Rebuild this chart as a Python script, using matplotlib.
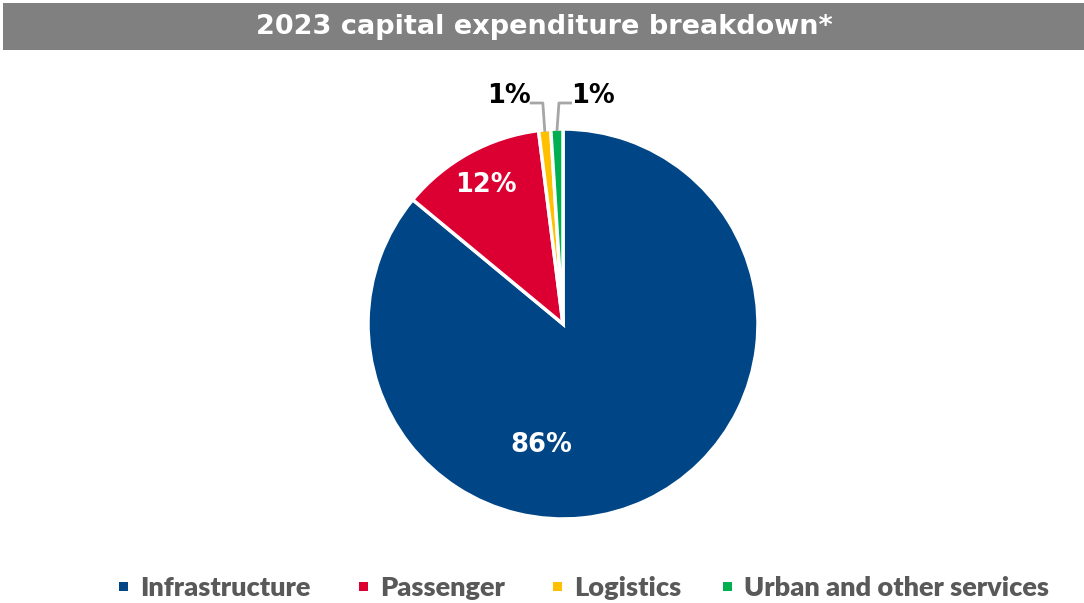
import numpy as np
import matplotlib
matplotlib.use("Agg")
import matplotlib.pyplot as plt
from matplotlib.patches import Rectangle

categories = ["Infrastructure", "Passenger", "Logistics", "Urban and other services"]
shares = [86, 12, 1, 1]
colors = ["#004687", "#DC0032", "#FFC000", "#00B050"]
title = "2023 capital expenditure breakdown*"

W, H = 1084, 603
fig = plt.figure(figsize=(W / 100, H / 100), dpi=100)
ax = fig.add_axes([0, 0, 1, 1])
ax.set_xlim(0, W)
ax.set_ylim(0, H)
ax.set_aspect("equal")
ax.axis("off")

# title banner
ax.add_patch(Rectangle((3, H - 50), W - 3, 47, facecolor="#808080", edgecolor="none"))
ax.text(544, H - 27, title, ha="center", va="center", color="white",
        fontsize=19.5, fontweight="bold", family="DejaVu Sans")

cx, cy, r = 563, H - 324, 195
wedges, _ = ax.pie(shares, colors=colors, startangle=90, counterclock=False,
                   center=(cx, cy), radius=r,
                   wedgeprops=dict(edgecolor="white", linewidth=2.5))
ax.set_xlim(0, W)
ax.set_ylim(0, H)

# labels inside the large slices (angle in degrees, distance as fraction of radius)
inner = [(shares[0], -100, 0.63), (shares[1], 119, 0.815)]
for val, ang, frac in inner:
    a = np.deg2rad(ang)
    ax.text(cx + frac * r * np.cos(a), cy + frac * r * np.sin(a), f"{val}%",
            ha="center", va="center", color="white", fontsize=18.5,
            fontweight="bold", family="DejaVu Sans")

def mid_angle(w):
    return np.deg2rad((w.theta1 + w.theta2) / 2)

# small slices: leader lines to labels above the pie
for w, val, side in [(wedges[2], shares[2], -1), (wedges[3], shares[3], 1)]:
    a = mid_angle(w)
    x0, y0 = cx + (r - 2) * np.cos(a), cy + (r - 2) * np.sin(a)
    ely = H - 103
    elx = x0 + side * 2
    endx = elx + side * 13
    ax.plot([x0, elx, endx], [y0, ely, ely], color="#A6A6A6", lw=2,
            solid_capstyle="butt")
    ax.text(endx + side * 21, ely + 7, f"{val}%", ha="center", va="center",
            color="black", fontsize=18.5, fontweight="bold", family="DejaVu Sans")

# legend
lx = [123, 363, 557, 727]
for x, c, name in zip(lx, colors, categories):
    ax.add_patch(Rectangle((x - 4.5, H - 591), 9, 9, facecolor=c, edgecolor="none"))
    ax.text(x + 17, H - 588, name, ha="left", va="center", color="#595959",
            fontsize=19.5, fontweight="heavy", family="Lato")

fig.savefig("out.png", dpi=100)
